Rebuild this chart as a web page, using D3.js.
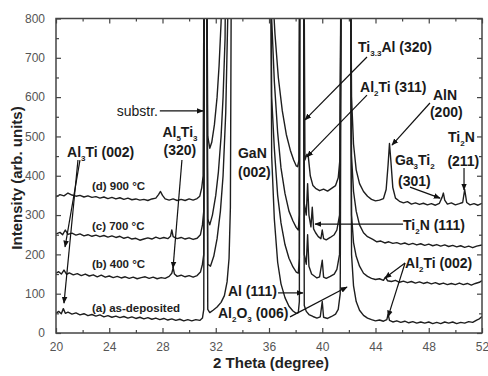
<!DOCTYPE html>
<html><head><meta charset="utf-8">
<script src="https://cdn.jsdelivr.net/npm/d3@7/dist/d3.min.js"></script>
<style>body{margin:0;background:#fff}svg{display:block}</style>
</head><body>
<script>
// ---- data (2θ in degrees, intensity in arb. units) ----
const xTicks = [20,24,28,32,36,40,44,48,52];
const xMinor = [22,26,30,34,38,42,46,50];
const yTicks = [0,100,200,300,400,500,600,700,800];
const yMinor = [50,150,250,350,450,550,650,750];

const curveA = [[20.0,50],[20.2,55],[20.4,49],[20.55,62],[20.7,50],[20.9,53],[21.2,48],[21.5,51],[21.8,46],[22.1,49],[22.4,44],[22.7,47],[23.0,43],[23.3,46],[23.6,41],[23.9,44],[24.2,40],[24.5,43],[24.8,39],[25.1,42],[25.4,38],[25.7,41],[26.0,37],[26.3,40],[26.6,36],[26.9,39],[27.2,35],[27.5,38],[27.8,34],[28.1,37],[28.4,33],[28.7,36],[29.0,32],[29.3,35],[29.6,31],[29.9,34],[30.2,31],[30.5,34],[30.8,32],[31.0,38],[31.1,60],[31.15,2000],[31.3,2000],[31.4,60],[31.55,52],[31.8,58],[32.1,66],[32.4,78],[32.65,95],[32.85,130],[33.0,190],[33.1,320],[33.2,2000],[34.5,5000],[36.1,2000],[36.2,450],[36.4,290],[36.65,180],[36.9,125],[37.2,90],[37.5,68],[37.8,56],[38.05,50],[38.2,52],[38.28,80],[38.32,2000],[38.58,2000],[38.65,70],[38.8,55],[39.0,47],[39.3,42],[39.6,38],[39.85,41],[40.0,80],[40.1,40],[40.4,37],[40.7,42],[41.0,48],[41.2,60],[41.35,100],[41.45,2000],[42.1,2000],[42.2,200],[42.35,120],[42.55,80],[42.8,58],[43.1,45],[43.4,38],[43.7,34],[44.0,31],[44.3,33],[44.6,30],[44.85,34],[44.95,48],[45.05,32],[45.3,28],[45.6,31],[45.9,27],[46.2,30],[46.5,26],[46.8,29],[47.1,25],[47.4,28],[47.7,25],[48.0,28],[48.3,24],[48.6,27],[48.9,24],[49.2,28],[49.5,25],[49.8,28],[50.1,24],[50.4,27],[50.7,25],[51.0,29],[51.3,27],[51.6,33],[51.8,36],[52.0,42]];

const curveB = [[20.0,152],[20.2,156],[20.4,150],[20.6,160],[20.8,149],[21.0,153],[21.3,148],[21.6,151],[21.9,146],[22.2,150],[22.5,145],[22.8,148],[23.1,143],[23.4,147],[23.7,142],[24.0,145],[24.3,141],[24.6,144],[24.9,140],[25.2,143],[25.5,139],[25.8,142],[26.1,138],[26.4,141],[26.7,143],[27.0,139],[27.3,142],[27.6,138],[27.9,141],[28.2,139],[28.5,144],[28.7,152],[28.8,166],[28.9,150],[29.1,144],[29.4,147],[29.7,143],[30.0,146],[30.3,142],[30.6,146],[30.85,155],[31.0,175],[31.1,200],[31.15,2000],[31.3,2000],[31.4,175],[31.6,170],[31.85,195],[32.1,240],[32.35,310],[32.55,400],[32.75,560],[32.9,800],[33.0,2000],[34.5,5000],[36.1,2000],[36.2,600],[36.4,470],[36.65,350],[36.9,280],[37.2,225],[37.5,190],[37.8,168],[38.05,155],[38.2,152],[38.28,190],[38.32,2000],[38.58,2000],[38.65,200],[38.8,175],[38.9,250],[39.0,170],[39.2,150],[39.4,145],[39.6,140],[39.8,143],[40.0,185],[40.1,142],[40.3,139],[40.6,144],[40.9,150],[41.1,162],[41.3,200],[41.45,2000],[42.1,2000],[42.2,300],[42.35,230],[42.55,195],[42.8,170],[43.1,152],[43.4,144],[43.7,139],[44.0,136],[44.3,138],[44.6,134],[44.75,142],[44.9,133],[45.2,131],[45.5,134],[45.8,129],[46.1,132],[46.4,128],[46.7,131],[47.0,127],[47.3,130],[47.6,126],[47.9,129],[48.2,125],[48.5,128],[48.8,124],[49.1,127],[49.4,123],[49.7,126],[50.0,123],[50.3,127],[50.6,123],[50.9,126],[51.2,122],[51.5,126],[51.8,129],[52.0,133]];

const curveC = [[20.0,252],[20.3,256],[20.5,250],[20.7,262],[20.9,251],[21.2,254],[21.5,249],[21.8,252],[22.1,247],[22.4,250],[22.7,246],[23.0,249],[23.3,245],[23.6,248],[23.9,244],[24.2,247],[24.5,243],[24.8,246],[25.1,241],[25.4,244],[25.7,239],[26.0,241],[26.3,236],[26.6,239],[26.9,242],[27.2,239],[27.5,244],[27.8,240],[28.1,243],[28.4,240],[28.6,246],[28.7,262],[28.8,245],[29.1,240],[29.4,243],[29.7,239],[30.0,242],[30.3,238],[30.6,241],[30.85,250],[31.0,275],[31.1,310],[31.15,2000],[31.3,2000],[31.4,290],[31.55,275],[31.75,300],[32.0,350],[32.2,410],[32.4,500],[32.55,600],[32.7,750],[32.8,2000],[34.5,5000],[36.1,2000],[36.2,800],[36.4,640],[36.65,510],[36.9,420],[37.2,355],[37.5,310],[37.8,285],[38.05,268],[38.2,262],[38.28,300],[38.32,2000],[38.58,2000],[38.65,330],[38.8,300],[38.9,380],[39.0,300],[39.15,270],[39.25,320],[39.35,265],[39.5,255],[39.7,245],[39.9,240],[40.0,262],[40.1,240],[40.3,237],[40.6,243],[40.9,250],[41.1,262],[41.3,300],[41.45,2000],[42.1,2000],[42.2,450],[42.35,360],[42.55,310],[42.8,275],[43.1,255],[43.4,245],[43.8,238],[44.1,232],[44.4,234],[44.7,229],[45.0,232],[45.3,228],[45.6,230],[45.9,226],[46.2,229],[46.5,225],[46.8,228],[47.1,224],[47.4,227],[47.7,223],[48.0,226],[48.3,222],[48.6,225],[48.9,221],[49.2,224],[49.5,220],[49.8,223],[50.1,219],[50.4,222],[50.7,218],[51.0,221],[51.3,217],[51.6,221],[52.0,224]];

const curveD = [[20.0,346],[20.3,352],[20.6,349],[20.9,356],[21.2,351],[21.5,348],[21.8,350],[22.1,346],[22.4,349],[22.7,345],[23.0,347],[23.3,343],[23.6,346],[23.9,342],[24.2,345],[24.5,341],[24.8,344],[25.1,340],[25.4,343],[25.7,339],[26.0,341],[26.3,338],[26.6,340],[26.9,337],[27.2,341],[27.5,343],[27.7,352],[27.85,360],[28.0,350],[28.2,341],[28.5,338],[28.8,341],[29.1,337],[29.4,340],[29.7,337],[30.0,341],[30.3,338],[30.6,342],[30.8,348],[30.95,370],[31.05,400],[31.15,2000],[31.3,2000],[31.4,500],[31.55,470],[31.7,485],[31.9,530],[32.1,600],[32.25,680],[32.4,790],[32.5,900],[32.6,2000],[34.5,5000],[36.1,2000],[36.25,880],[36.45,760],[36.7,650],[37.0,565],[37.3,505],[37.6,465],[37.85,440],[38.05,425],[38.15,423],[38.25,440],[38.3,2000],[38.6,2000],[38.7,440],[38.85,455],[38.95,450],[39.1,400],[39.3,375],[39.5,368],[39.8,362],[40.1,366],[40.4,361],[40.7,368],[41.0,375],[41.2,395],[41.35,450],[41.45,2000],[42.1,2000],[42.2,600],[42.35,480],[42.55,415],[42.8,380],[43.1,360],[43.4,348],[43.7,340],[44.0,336],[44.3,338],[44.6,342],[44.8,365],[44.95,430],[45.05,482],[45.15,440],[45.3,370],[45.5,343],[45.8,335],[46.1,331],[46.4,334],[46.7,328],[47.0,331],[47.3,327],[47.6,330],[47.9,326],[48.2,329],[48.5,325],[48.8,330],[49.0,345],[49.1,356],[49.2,338],[49.4,328],[49.7,331],[50.0,326],[50.3,329],[50.55,332],[50.7,365],[50.85,332],[51.1,326],[51.4,329],[51.7,325],[52.0,330]];

const curves = [curveA, curveB, curveC, curveD];
const curveLabels = ["(a) as-deposited", "(b) 400 °C", "(c) 700 °C", "(d) 900 °C"];

// ---- layout ----
const W = 488, H = 376;
const x = d3.scaleLinear().domain([20, 52]).range([56, 482]);
const y = d3.scaleLinear().domain([0, 800]).range([333, 18.5]);
const FONT = "'Liberation Sans', Arial, Helvetica, sans-serif";

const svg = d3.select("body").append("svg").attr("width", W).attr("height", H)
  .style("font-family", FONT);
svg.append("rect").attr("width", W).attr("height", H).attr("fill", "#fff");

const defs = svg.append("defs");
defs.append("clipPath").attr("id", "clip").append("rect")
  .attr("x", x(20)).attr("y", y(800)).attr("width", x(52) - x(20)).attr("height", y(0) - y(800));
defs.append("marker").attr("id", "ah").attr("viewBox", "0 0 10 10")
  .attr("refX", 9).attr("refY", 5).attr("markerWidth", 7).attr("markerHeight", 7)
  .attr("markerUnits", "userSpaceOnUse").attr("orient", "auto")
  .append("path").attr("d", "M0,1 L10,5 L0,9 Z").attr("fill", "#111");

// ---- curves ----
const line = d3.line().x(d => x(d[0])).y(d => y(Math.min(d[1], 1200)));
svg.append("g").attr("clip-path", "url(#clip)")
  .selectAll("path").data(curves).join("path")
  .attr("d", line).attr("fill", "none").attr("stroke", "#1e1e1e")
  .attr("stroke-width", 1.4).attr("stroke-linejoin", "round");

// ---- axes ----
const axCol = "#444";
function styleAxis(g) {
  g.select(".domain").remove();
  g.selectAll(".tick line").attr("stroke", axCol).attr("stroke-width", 1.2);
  g.selectAll(".tick text").attr("fill", "#555").style("font-size", "12px").style("font-family", FONT);
}
svg.append("g").attr("transform", `translate(0,${y(0)})`)
  .call(d3.axisBottom(x).tickValues(xTicks).tickSize(-5).tickPadding(9).tickFormat(d3.format("d")))
  .call(styleAxis);
svg.append("g").attr("transform", `translate(0,${y(0)})`)
  .call(d3.axisBottom(x).tickValues(xMinor).tickSize(-3).tickFormat(""))
  .call(styleAxis);
svg.append("g").attr("transform", `translate(0,${y(800)})`)
  .call(d3.axisTop(x).tickValues(xTicks).tickSize(-5).tickFormat(""))
  .call(styleAxis);
svg.append("g").attr("transform", `translate(0,${y(800)})`)
  .call(d3.axisTop(x).tickValues(xMinor).tickSize(-3).tickFormat(""))
  .call(styleAxis);
svg.append("g").attr("transform", `translate(${x(20)},0)`)
  .call(d3.axisLeft(y).tickValues(yTicks).tickSize(-5).tickPadding(11).tickFormat(d3.format("d")))
  .call(styleAxis);
svg.append("g").attr("transform", `translate(${x(20)},0)`)
  .call(d3.axisLeft(y).tickValues(yMinor).tickSize(-3).tickFormat(""))
  .call(styleAxis);
svg.append("g").attr("transform", `translate(${x(52)},0)`)
  .call(d3.axisRight(y).tickValues(yTicks).tickSize(-5).tickFormat(""))
  .call(styleAxis);
svg.append("g").attr("transform", `translate(${x(52)},0)`)
  .call(d3.axisRight(y).tickValues(yMinor).tickSize(-3).tickFormat(""))
  .call(styleAxis);

svg.append("rect").attr("x", x(20)).attr("y", y(800))
  .attr("width", x(52) - x(20)).attr("height", y(0) - y(800))
  .attr("fill", "none").attr("stroke", axCol).attr("stroke-width", 1.5);

// ---- axis titles ----
svg.append("text").attr("x", 271).attr("y", 368).attr("text-anchor", "middle")
  .style("font-size", "15px").style("font-weight", "bold").attr("fill", "#222")
  .text("2 Theta (degree)");
svg.append("text").attr("transform", "translate(22,178) rotate(-90)").attr("text-anchor", "middle")
  .style("font-size", "15px").style("font-weight", "bold").attr("fill", "#222")
  .text("Intensity (arb. units)");

// ---- curve labels ----
const labelPos = [[22.7, 53], [22.7, 165], [22.7, 262], [22.7, 364]];
curveLabels.forEach((t, i) => {
  svg.append("text").attr("x", x(labelPos[i][0])).attr("y", y(labelPos[i][1]))
    .style("font-size", "11.5px").style("font-weight", "bold").attr("fill", "#222").text(t);
});

// ---- peak annotations: parts = strings, or {s: subscript} ----
function label(parts, px, py, anchor, size, weight) {
  const t = svg.append("text").attr("x", x(px)).attr("y", y(py))
    .attr("text-anchor", anchor || "start")
    .style("font-size", (size || 14) + "px").style("font-weight", weight || "bold").attr("fill", "#1a1a1a");
  let inSub = false;
  parts.forEach(p => {
    if (typeof p === "object") {
      t.append("tspan").attr("dy", inSub ? 0 : 4).style("font-size", "8px").text(p.s);
      inSub = true;
    } else {
      t.append("tspan").attr("dy", inSub ? -4 : 0).text(p);
      inSub = false;
    }
  });
}
label(["substr."], 27.66, 552, "end", 14, "normal");
label(["Al", {s: "3"}, "Ti (002)"], 20.83, 448);
label(["Al", {s: "5"}, "Ti", {s: "3"}], 29.31, 499, "middle");
label(["(320)"], 29.31, 453, "middle");
label(["GaN"], 33.67, 445);
label(["(002)"], 33.67, 397);
label(["Ti", {s: "3.3"}, "Al (320)"], 42.69, 715);
label(["Al", {s: "2"}, "Ti (311)"], 42.84, 613);
label(["AlN"], 48.32, 593);
label(["(200)"], 48.09, 549);
label(["Ti", {s: "2"}, "N"], 49.45, 486);
label(["(211)"], 49.4, 425);
label(["Ga", {s: "3"}, "Ti", {s: "2"}], 45.46, 427);
label(["(301)"], 45.69, 374);
label(["Ti", {s: "2"}, "N (111)"], 46.07, 262);
label(["Al", {s: "2"}, "Ti (002)"], 46.22, 165);
label(["Al (111)"], 36.6, 94, "end");
label(["Al", {s: "2"}, "O", {s: "3"}, " (006)"], 32.17, 38);

// ---- arrows [from, to] in data coordinates ----
const arrows = [
  [[27.8, 565], [31.05, 565]],
  [[21.8, 440], [20.68, 219]],
  [[21.65, 440], [20.6, 76]],
  [[29.46, 440], [28.79, 165]],
  [[43.36, 702], [38.7, 542]],
  [[43.36, 605], [38.85, 448]],
  [[48.09, 585], [45.24, 478]],
  [[50.65, 420], [50.65, 364]],
  [[46.59, 371], [48.85, 343]],
  [[46.07, 277], [39.46, 277]],
  [[46.22, 178], [44.71, 140]],
  [[46.22, 178], [44.94, 41]],
  [[36.68, 102], [38.55, 102]],
  [[37.58, 41], [41.86, 117]]
];
svg.append("g").selectAll("line").data(arrows).join("line")
  .attr("x1", d => x(d[0][0])).attr("y1", d => y(d[0][1]))
  .attr("x2", d => x(d[1][0])).attr("y2", d => y(d[1][1]))
  .attr("stroke", "#111").attr("stroke-width", 1.2).attr("marker-end", "url(#ah)");
</script>
</body></html>
